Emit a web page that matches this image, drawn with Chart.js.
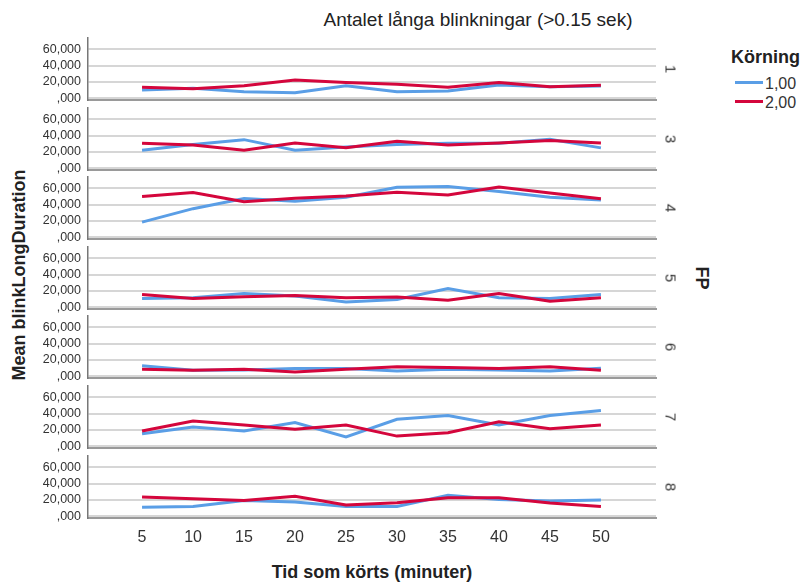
<!DOCTYPE html>
<html lang="sv">
<head>
  <meta charset="UTF-8" />
  <title>Antalet långa blinkningar</title>
  <style>
    body {
      margin: 0;
      background: #fff;
      font-family: 'Liberation Sans', Arial, sans-serif;
      color: #222;
    }
    #wrap {
      position: relative;
      width: 802px;
      height: 585px;
      overflow: hidden;
    }
    .abs { position: absolute; white-space: nowrap; }
    #title { left: 278px; width: 400px; top: 9px; font-size: 19px; line-height: 22px; text-align: center; }
    #y-title { left: 19px; top: 275px; font-size: 18px; font-weight: bold; line-height: 18px; transform: translate(-50%, -50%) rotate(-90deg); }
    #x-title { left: 222px; width: 300px; top: 563px; font-size: 18px; font-weight: bold; line-height: 18px; text-align: center; }
    #fp-title { left: 702px; top: 278px; font-size: 18px; font-weight: bold; line-height: 18px; transform: translate(-50%, -50%) rotate(90deg); }
    .panel-label { font-size: 15px; line-height: 15px; color: #333; transform: translate(-50%, -50%) rotate(90deg); }
    #legend-title { left: 731px; top: 48px; font-size: 18px; font-weight: bold; line-height: 18px; }
    .legend-line { width: 28px; height: 3px; left: 735px; }
    .legend-text { left: 765px; font-size: 16px; line-height: 16px; color: #333; }
    canvas { position: absolute; left: 0; }
  </style>
</head>
<body>
  <div id="wrap">
    <div class="abs" id="title">Antalet långa blinkningar (&gt;0.15 sek)</div>
    <div class="abs" id="y-title">Mean blinkLongDuration</div>
    <div class="abs" id="x-title">Tid som körts (minuter)</div>
    <div class="abs" id="fp-title">FP</div>
    <div class="abs" id="legend-title">Körning</div>
    <div class="abs legend-line" style="top:81px; background:#5a9ee6;"></div>
    <div class="abs legend-text" style="top:76px;">1,00</div>
    <div class="abs legend-line" style="top:100px; background:#d4063c;"></div>
    <div class="abs legend-text" style="top:95px;">2,00</div>
  </div>

  <script src="https://cdn.jsdelivr.net/npm/chart.js"></script>
  <script>
    const minutes = [5, 10, 15, 20, 25, 30, 35, 40, 45, 50];
    const yTicks = [0, 20, 40, 60];
    const fpLevels = ['1', '3', '4', '5', '6', '7', '8'];

    // mean blink duration per FP, Körning 1,00 and 2,00
    const fp1Run1 = [10.2, 12.3, 8.0, 6.9, 15.5, 8.0, 9.0, 16.3, 14.3, 15.0];
    const fp1Run2 = [13.5, 11.8, 15.5, 22.5, 19.2, 17.2, 13.5, 19.2, 14.3, 16.0];
    const fp3Run1 = [22.0, 29.0, 35.0, 22.0, 26.0, 29.0, 30.5, 30.5, 35.5, 25.0];
    const fp3Run2 = [30.5, 28.5, 22.0, 31.0, 25.0, 33.0, 28.5, 31.0, 34.0, 31.0];
    const fp4Run1 = [18.6, 35.0, 47.5, 44.0, 49.0, 61.0, 62.0, 56.0, 49.0, 45.5];
    const fp4Run2 = [49.7, 54.7, 43.5, 47.7, 50.5, 55.0, 51.8, 61.4, 54.0, 47.0];
    const fp5Run1 = [10.8, 11.7, 17.0, 13.8, 6.6, 9.6, 23.0, 11.6, 10.8, 15.8];
    const fp5Run2 = [15.8, 10.8, 12.9, 14.6, 11.6, 12.5, 8.7, 17.0, 7.5, 11.6];
    const fp6Run1 = [12.9, 7.5, 7.9, 9.5, 9.5, 6.6, 8.7, 7.9, 6.6, 10.0];
    const fp6Run2 = [8.7, 7.5, 8.7, 5.4, 8.7, 11.6, 10.8, 9.5, 11.6, 7.5];
    const fp7Run1 = [15.4, 23.7, 18.7, 29.0, 11.6, 33.0, 37.5, 26.0, 37.5, 43.7];
    const fp7Run2 = [18.7, 31.0, 26.0, 21.0, 26.0, 12.5, 16.6, 30.0, 21.6, 26.0];
    const fp8Run1 = [11.2, 12.0, 19.4, 17.5, 12.0, 12.0, 25.8, 20.7, 18.7, 20.0];
    const fp8Run2 = [23.7, 21.6, 19.4, 24.6, 14.0, 16.6, 22.7, 22.7, 16.3, 12.0];

    const run1Series = [fp1Run1, fp3Run1, fp4Run1, fp5Run1, fp6Run1, fp7Run1, fp8Run1];
    const run2Series = [fp1Run2, fp3Run2, fp4Run2, fp5Run2, fp6Run2, fp7Run2, fp8Run2];

    const blue = '#5a9ee6';
    const red = '#d4063c';
    const FIRST_TOP = 38;
    const PITCH = 69.6;
    const AREA_H = 62;
    const CANVAS_W = 680;
    const AREA_RIGHT = 656;

    const wrap = document.getElementById('wrap');

    function yLabel(v) {
      return v === 0 ? ',000' : v.toFixed(3).replace('.', ',');
    }

    function makePanel(i) {
      const areaTop = Math.round(FIRST_TOP + i * PITCH);
      const isLast = i === fpLevels.length - 1;
      const padTop = 4;
      const bottomH = isLast ? 50 : 4;

      const canvas = document.createElement('canvas');
      canvas.width = CANVAS_W;
      canvas.height = padTop + AREA_H + bottomH;
      canvas.style.top = (areaTop - padTop) + 'px';
      wrap.appendChild(canvas);

      const label = document.createElement('div');
      label.className = 'abs panel-label';
      label.textContent = fpLevels[i];
      label.style.left = '671px';
      label.style.top = (areaTop + AREA_H / 2) + 'px';
      wrap.appendChild(label);

      const toPoints = arr => minutes.map((m, k) => ({ x: m, y: arr[k] }));

      new Chart(canvas, {
        type: 'line',
        data: {
          datasets: [
            { label: '1,00', data: toPoints(run1Series[i]), borderColor: blue, borderWidth: 3, pointRadius: 0, tension: 0, order: 2 },
            { label: '2,00', data: toPoints(run2Series[i]), borderColor: red, borderWidth: 3, pointRadius: 0, tension: 0, order: 1 }
          ]
        },
        options: {
          responsive: false,
          animation: false,
          devicePixelRatio: 1,
          layout: { padding: { top: padTop, right: CANVAS_W - AREA_RIGHT, left: 0, bottom: 0 } },
          plugins: { legend: { display: false }, tooltip: { enabled: false } },
          scales: {
            x: {
              type: 'linear',
              min: -0.3,
              max: 55.4,
              afterBuildTicks: s => { s.ticks = minutes.map(v => ({ value: v })); },
              afterFit: s => { s.height = bottomH; s.paddingLeft = 0; s.paddingRight = 0; },
              grid: { display: false, drawTicks: false },
              border: { display: true, color: '#9a9a9a', width: 2 },
              ticks: {
                display: isLast,
                autoSkip: false,
                padding: 10,
                color: '#333',
                font: { family: "'Liberation Sans', Arial", size: 16 },
                maxRotation: 0,
                callback: v => String(v)
              }
            },
            y: {
              min: -2,
              max: 73.6,
              afterBuildTicks: s => { s.ticks = yTicks.map(v => ({ value: v })); },
              afterFit: s => { s.width = 88; s.paddingTop = 0; s.paddingBottom = 0; },
              grid: { color: '#d6d6d6', lineWidth: 2, drawTicks: false },
              border: { display: true, color: '#777', width: 1.5 },
              ticks: {
                autoSkip: false,
                padding: 7,
                color: '#333',
                font: { family: "'Liberation Sans', Arial", size: 12.5 },
                callback: v => yLabel(v)
              }
            }
          }
        }
      });
    }

    fpLevels.forEach((_, i) => makePanel(i));
  </script>
</body>
</html>
